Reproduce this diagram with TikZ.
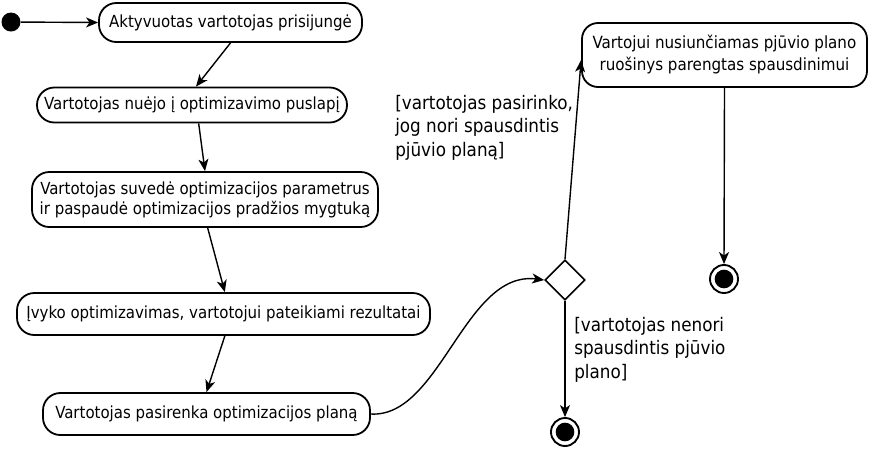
\documentclass[tikz,border=0pt]{standalone}
\usepackage{fontspec}
\setmainfont{DejaVu Sans Condensed}
\usetikzlibrary{arrows.meta,shapes.geometric}
\begin{document}
\begin{tikzpicture}[x=0.75pt,y=-0.75pt,
  act/.style={draw,line width=1.35pt,rounded corners=13pt,inner sep=0pt,align=center,
    font=\fontsize{12.5pt}{15pt}\selectfont},
  guard/.style={inner sep=0pt,align=left,anchor=north west,
    font=\fontsize{14pt}{17.6pt}\selectfont},
  flow/.style={line width=1.05pt,-{Stealth[length=9pt,width=7.5pt,inset=2.5pt]}},
  startdot/.style={circle,fill=black,minimum size=14.25pt,inner sep=0pt},
  enddot/.style={circle,draw,line width=1.4pt,minimum size=21pt,inner sep=0pt,
    path picture={\fill (path picture bounding box.center) circle (7pt);}},
  decision/.style={diamond,draw,line width=1.2pt,minimum width=30pt,minimum height=30pt,inner sep=0pt}]
\useasboundingbox (0,0) rectangle (870,451);
\node[startdot] (s) at (11,22) {};
\node[act,minimum width=197.25pt,minimum height=29.25pt] (n1) at (230.5,22.5) {Aktyvuotas vartotojas prisijungė};
\node[act,minimum width=232.5pt,minimum height=26.25pt] (n2) at (192,105) {Vartotojas nuėjo į optimizavimo puslapį};
\node[act,minimum width=259.5pt,minimum height=41.25pt] (n3) at (205,199.5) {Vartotojas suvedė optimizacijos parametrus\\ir paspaudė optimizacijos pradžios mygtuką};
\node[act,minimum width=309.75pt,minimum height=31.5pt] (n4) at (223.5,314) {Įvyko optimizavimas, vartotojui pateikiami rezultatai};
\node[act,minimum width=245.25pt,minimum height=31.5pt] (n5) at (206.5,414) {Vartotojas pasirenka optimizacijos planą};
\node[act,minimum width=213.75pt,minimum height=48pt,rounded corners=12pt,font=\fontsize{12.6pt}{16.5pt}\selectfont] (n6) at (724.5,55) {Vartojui nusiunčiamas pjūvio plano\\ruošinys parengtas spausdinimui};
\node[decision] (d) at (565,280) {};
\node[enddot] (f1) at (724,279) {};
\node[enddot] (f2) at (565,432) {};
\node[guard] (g1) at (395,95) {[vartotojas pasirinko,\\jog nori spausdintis\\pjūvio planą]};
\node[guard] (g2) at (574,317) {[vartotojas nenori\\spausdintis pjūvio\\plano]};
\draw[flow] (s) -- (n1.west);
\draw[flow] (n1.south) -- ([xshift=3pt]n2.north);
\draw[flow] ([xshift=5pt]n2.south) -- (n3.north);
\draw[flow] ([xshift=2pt]n3.south) -- ([xshift=1pt]n4.north);
\draw[flow] ([xshift=1pt]n4.south) -- (n5.north);
\draw[flow] (n5.east) .. controls (440,418) and (465,270) .. (d.west);
\draw[flow] (d.north) -- ([yshift=-3.75pt]n6.west);
\draw[flow] (n6.south) -- (f1.north);
\draw[flow] (d.south) -- (f2.north);
\end{tikzpicture}
\end{document}
